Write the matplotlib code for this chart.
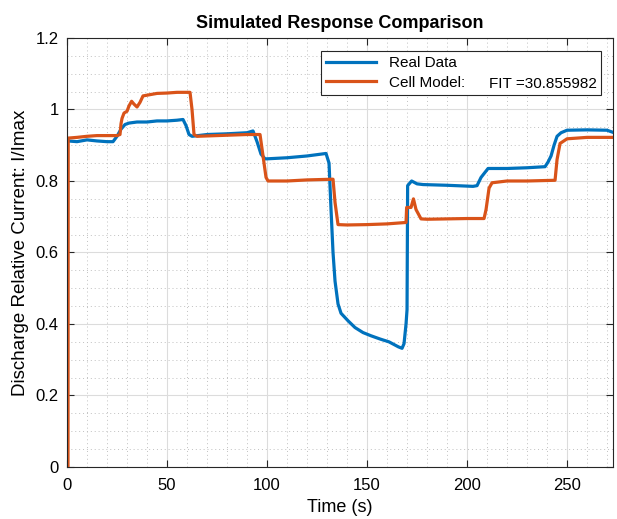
import matplotlib
matplotlib.use('Agg')
import matplotlib.pyplot as plt
from matplotlib.ticker import MultipleLocator

plt.rcParams['font.family'] = ['Liberation Sans', 'DejaVu Sans']

# real (measured) data
t_real = [0.5, 5, 10, 15, 20, 23, 25, 27, 29, 31, 35, 40, 45, 50, 55, 58, 59.5, 61,
          62.5, 70, 80, 90, 93, 95, 97, 99, 100, 110, 120, 129.5, 131, 132, 133, 134,
          135.5, 137, 140.5, 144, 148, 152, 156.5, 161, 165.7, 167.5, 168.5, 169.5,
          170, 170.3, 172.3, 175, 178, 190, 203, 205, 207, 210.5, 220, 230, 239,
          240.5, 242, 243.5, 245, 247, 250, 260, 270, 273]
i_real = [0.912, 0.91, 0.915, 0.912, 0.91, 0.91, 0.925, 0.945, 0.958, 0.962, 0.965,
          0.965, 0.968, 0.968, 0.97, 0.972, 0.955, 0.93, 0.925, 0.93, 0.932, 0.935,
          0.94, 0.91, 0.875, 0.862, 0.862, 0.865, 0.87, 0.877, 0.85, 0.72, 0.60, 0.52,
          0.456, 0.43, 0.409, 0.39, 0.376, 0.367, 0.358, 0.35, 0.336, 0.332, 0.345,
          0.40, 0.44, 0.787, 0.80, 0.792, 0.79, 0.788, 0.785, 0.787, 0.81, 0.835,
          0.835, 0.837, 0.84, 0.853, 0.87, 0.9, 0.925, 0.935, 0.942, 0.943, 0.942, 0.936]

# cell model output
t_model = [0.5, 0.6, 5, 10, 15, 20, 25, 26.5, 27, 27.5, 28.5, 30, 31, 32.3, 33.5, 35,
           36.5, 38, 42, 45, 50, 55, 61.5, 62.5, 63.5, 65, 70, 80, 90, 96.5, 98,
           99.5, 100.5, 110, 120, 133, 134, 135.5, 140, 150, 160, 169.5, 169.8, 172,
           173.2, 174.5, 177, 180, 190, 200, 208.5, 209.5, 211, 212.5, 220, 230, 244,
           245, 246.5, 250, 260, 273]
i_model = [0, 0.92, 0.922, 0.925, 0.927, 0.927, 0.927, 0.93, 0.96, 0.975, 0.99, 0.995,
           1.01, 1.023, 1.015, 1.007, 1.02, 1.038, 1.042, 1.045, 1.046, 1.048, 1.048,
           1.0, 0.93, 0.925, 0.926, 0.928, 0.93, 0.93, 0.87, 0.81, 0.80, 0.80, 0.803,
           0.805, 0.74, 0.678, 0.677, 0.678, 0.68, 0.684, 0.726, 0.726, 0.75, 0.72,
           0.694, 0.693, 0.694, 0.695, 0.695, 0.72, 0.78, 0.795, 0.80, 0.80, 0.802,
           0.86, 0.905, 0.918, 0.922, 0.922]

yticks = [0, 0.2, 0.4, 0.6, 0.8, 1.0, 1.2]
ytick_labels = ['0', '0.2', '0.4', '0.6', '0.8', '1', '1.2']
fit_text = 'FIT =30.855982'

fig = plt.figure(figsize=(6.17, 5.19), dpi=100)
ax = fig.add_axes([0.1086, 0.1002, 0.885, 0.8266])

ax.plot(t_real, i_real, color='#0072BD', lw=2.3, label='Real Data')
ax.plot(t_model, i_model, color='#D95319', lw=2.3, label='Cell Model:')

ax.set_xlim(0, 273)
ax.set_ylim(0, 1.2)
ax.set_yticks(yticks)
ax.set_yticklabels(ytick_labels)
ax.xaxis.set_major_locator(MultipleLocator(50))
ax.xaxis.set_minor_locator(MultipleLocator(10))
ax.yaxis.set_minor_locator(MultipleLocator(0.05))

ax.grid(which='major', color='#dcdcdc', lw=0.8)
ax.grid(which='minor', color='#c0c0c0', lw=0.7, ls=(0, (1, 3)))
ax.set_axisbelow(True)
ax.tick_params(which='both', direction='in', top=True, right=True, labelsize=12,
               color='#262626')
ax.tick_params(which='minor', length=0)
ax.tick_params(which='major', length=5)
ax.tick_params(axis='x', pad=8)
ax.tick_params(axis='y', pad=6)
for s in ax.spines.values():
    s.set_color('#262626')
    s.set_linewidth(0.8)

ax.set_title('Simulated Response Comparison', fontsize=13, fontweight='bold', pad=7)
ax.set_xlabel('Time (s)', fontsize=13, labelpad=4)
ax.set_ylabel('Discharge Relative Current: I/Imax', fontsize=13.5, labelpad=5)

leg = ax.legend(loc='upper left', bbox_to_anchor=(0.4646, 0.867, 0.5134, 0.103),
                mode='expand', fontsize=11, handlelength=3.3, fancybox=False,
                framealpha=1, edgecolor='#262626', borderaxespad=0,
                labelspacing=0.35, borderpad=0.35)
leg.get_frame().set_linewidth(0.8)
ax.text(0.9707, 0.893, fit_text, transform=ax.transAxes, ha='right', va='center',
        fontsize=11, zorder=10)

fig.savefig('out.png', dpi=100)
